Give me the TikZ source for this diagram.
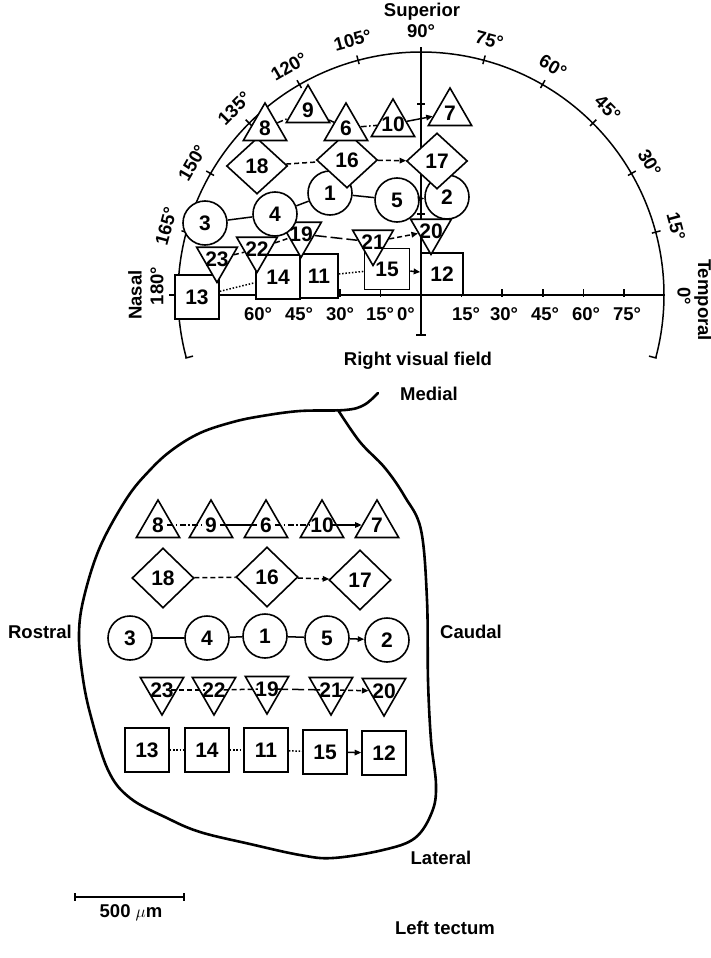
\documentclass[tikz,border=0pt]{standalone}
\usepackage{fontspec}
\setmainfont{Liberation Sans}
\usetikzlibrary{shapes.geometric,arrows.meta}
\newcommand\nm[1]{\makebox[0pt]{\raisebox{-0.36em}[0pt][0pt]{#1}}}
\begin{document}
\begin{tikzpicture}[x=1pt,y=-1pt,
  ax/.style={line width=1.5pt},
  lbl/.style={font=\bfseries\fontsize{18.5}{19}\selectfont, inner sep=0pt},
  shp/.style={draw, line width=1.6pt, fill=white, inner sep=0pt, font=\bfseries\fontsize{21}{21}\selectfont},
  tri/.style={shp, regular polygon, regular polygon sides=3, minimum size=50pt},
  itri/.style={tri, shape border rotate=180},
  circ/.style={shp, circle, minimum size=44pt},
  sq/.style={shp, rectangle, minimum size=44pt},
  dia/.style={shp, diamond, minimum width=62pt, minimum height=60pt},
  pdia/.style={shp, diamond, minimum width=61pt, minimum height=56pt},
  conn/.style={line width=1.5pt},
  arr/.style={-{Triangle[length=6.5pt,width=5.5pt]}},
  dsh/.style={dash pattern=on 5pt off 3pt},
  ddot/.style={dash pattern=on 6pt off 2.5pt on 1.5pt off 2.5pt},
  dotp/.style={dash pattern=on 1.5pt off 1.8pt},
  longd/.style={dash pattern=on 12pt off 4pt},
  into/.style={shorten <=-6pt, shorten >=-6pt}
]
\useasboundingbox (0,0) rectangle (711,958);

% ---------------- polar plot axes ----------------
\draw[ax] (177,295) -- (665,295);
\draw[ax] (169,295) -- (185,295);
\draw[ax] (421,51) -- (421,335);
\draw[ax] (416,335) -- (426,335);
\draw[ax] (417,104) -- (425,104);
\draw[ax] (417,214) -- (425,214);
\foreach \k in {1,...,5} \draw[ax] ({421+40.6*\k},289) -- ({421+40.6*\k},297);
\foreach \k in {1,...,4} \draw[ax] ({421-40.6*\k},289) -- ({421-40.6*\k},297);
\draw[ax] plot[domain=-15:195, samples=140, smooth] ({421+243*cos(\x)},{295-243*sin(\x)});
\foreach \a in {-15,195} \draw[ax] ({421+236*cos(\a)},{295-236*sin(\a)}) -- ({421+244*cos(\a)},{295-244*sin(\a)});
\foreach \a in {15,30,...,165} \draw[ax] ({421+239*cos(\a)},{295-239*sin(\a)}) -- ({421+248*cos(\a)},{295-248*sin(\a)});

% arc labels
\foreach \a in {15,30,...,165} \node[lbl, rotate=\a-90] at ({421+264*cos(\a)},{295-264*sin(\a)}) {\a°};
\node[lbl] (sup) at (422,12) {Superior};
\node[lbl, rotate=90] (nasal) at (135,295) {Nasal};
\node[lbl, rotate=90] (n180) at (157,286) {180°};
\node[lbl, rotate=-90] (temp) at (703,300) {Temporal};
\node[lbl, rotate=-90] (t0) at (684,296) {0°};
\node[lbl] (rvf) at (418,361) {Right visual field};
% axis labels
\node[lbl] at (258,314) {60°};
\node[lbl] at (299,314) {45°};
\node[lbl] at (340,314) {30°};
\node[lbl] at (380,314) {15°};
\node[lbl] at (406,314) {0°};
\node[lbl] at (466,314) {15°};
\node[lbl] at (504,314) {30°};
\node[lbl] at (545,314) {45°};
\node[lbl] at (586,314) {60°};
\node[lbl] at (627,314) {75°};

% ---------------- polar plot symbols ----------------
\node[sq] (p13) at (197,297) {\nm{13}};
\node[sq] (p14) at (278,277) {\nm{14}};
\node[sq, minimum width=38pt] (p11) at (319,276) {\nm{11}};
\node[sq, minimum width=45pt, minimum height=41pt] (p15) at (387,269) {\nm{15}};
\node[sq, minimum width=42pt, minimum height=42pt] (p12) at (442,274) {\nm{12}};

\node[itri, minimum size=47pt] (p23) at (217,259) {\nm{23}};
\node[itri, minimum size=47pt] (p22) at (257,249) {\nm{22}};
\node[itri, minimum size=47pt] (p19) at (301,234) {\nm{19}};
\node[itri, minimum size=47pt] (p21) at (373,242) {\nm{21}};
\node[itri, minimum size=47pt] (p20) at (431,231) {\nm{20}};

\node[circ] (p3) at (205,223) {\nm{3}};
\node[circ] (p4) at (275,214) {\nm{4}};
\node[circ] (p1) at (330,193) {\nm{1}};
\node[circ] (p5) at (397,200) {\nm{5}};
\node[circ] (p2) at (447,197) {\nm{2}};

\node[pdia] (p18) at (257,166) {\nm{18}};
\node[pdia] (p16) at (347,160) {\nm{16}};
\node[pdia] (p17) at (437,161) {\nm{17}};

\node[tri] (p8) at (265,128) {\nm{8}};
\node[tri] (p9) at (308,110) {\nm{9}};
\node[tri] (p6) at (346,128) {\nm{6}};
\node[tri] (p10) at (393,124) {\nm{10}};
\node[tri] (p7) at (450,113) {\nm{7}};

% polar connectors
\draw[conn, ddot] (p8) -- (p9);
\draw[conn] (p9) -- (p6);
\draw[conn, ddot] (p6) -- (p10);
\draw[conn, arr] (p10) -- (p7);
\draw[conn, dsh] (p18) -- (p16);
\draw[conn, dsh, arr] (p16) -- (p17);
\draw[conn] (p3) -- (p4);
\draw[conn] (p4) -- (p1);
\draw[conn] (p1) -- (p5);
\draw[conn, arr] (p5) -- (p2);
\draw[conn, dsh] (p23) -- (p22);
\draw[conn, dsh] (p22) -- (p19);
\draw[conn, longd] (p19) -- (p21);
\draw[conn, dsh, arr] (p21) -- (p20);
\draw[conn, dotp] (p13) -- (p14);
\draw[conn, dotp] (p11) -- (p15);
\draw[conn, arr] (p15) -- (p12);

% ---------------- tectum ----------------
\draw[line width=2.6pt, line join=round, line cap=round] plot[smooth, tension=0.6] coordinates {(378,393) (364,405) (345,410) (300,411) (262,416) (233,422) (200,433) (172,450) (150,470) (127,498) (100,547) (84,597) (79,633) (82,672) (90,713) (108,770) (130,798) (167,818) (200,832) (250,844) (300,855) (333,858) (383,850) (415,838) (432,812) (436,785) (431,740) (428,680) (427,600) (421,530) (405,497) (385,468) (360,442) (338,410)};

\node[lbl] (medial) at (429,394) {Medial};
\node[lbl] (rostral) at (40,632) {Rostral};
\node[lbl] (caudal) at (471,632) {Caudal};
\node[lbl] (lateral) at (441,858) {Lateral};
\node[lbl] (lefttec) at (445,928) {Left tectum};

\node[tri] (t8) at (158,525) {\nm{8}};
\node[tri] (t9) at (211,525) {\nm{9}};
\node[tri] (t6) at (266,525) {\nm{6}};
\node[tri] (t10) at (322,525) {\nm{10}};
\node[tri] (t7) at (377,525) {\nm{7}};

\node[dia] (t18) at (163,578) {\nm{18}};
\node[dia] (t16) at (267,577) {\nm{16}};
\node[dia] (t17) at (360,580) {\nm{17}};

\node[circ] (t3) at (130,638) {\nm{3}};
\node[circ] (t4) at (207,638) {\nm{4}};
\node[circ] (t1) at (265,636) {\nm{1}};
\node[circ] (t5) at (327,638) {\nm{5}};
\node[circ] (t2) at (387,640) {\nm{2}};

\node[itri] (t23) at (162,690) {\nm{23}};
\node[itri] (t22) at (214,690) {\nm{22}};
\node[itri] (t19) at (267,689) {\nm{19}};
\node[itri] (t21) at (331,690) {\nm{21}};
\node[itri] (t20) at (384,691) {\nm{20}};

\node[sq] (t13) at (147,750) {\nm{13}};
\node[sq] (t14) at (207,750) {\nm{14}};
\node[sq] (t11) at (266,750) {\nm{11}};
\node[sq] (t15) at (325,752) {\nm{15}};
\node[sq] (t12) at (384,753) {\nm{12}};

\draw[conn, ddot, into] (t8) -- (t9);
\draw[conn, into] (t9) -- (t6);
\draw[conn, ddot, into] (t6) -- (t10);
\draw[conn, arr, shorten <=-6pt] (t10) -- (t7);
\draw[conn, dsh] (t18) -- (t16);
\draw[conn, dsh, arr] (t16) -- (t17);
\draw[conn] (t3) -- (t4);
\draw[conn] (t4) -- (t1);
\draw[conn] (t1) -- (t5);
\draw[conn, arr] (t5) -- (t2);
\draw[conn, dsh, into] (t23) -- (t22);
\draw[conn, dsh, into] (t22) -- (t19);
\draw[conn, longd, into] (t19) -- (t21);
\draw[conn, dsh, arr, shorten <=-6pt] (t21) -- (t20);
\draw[conn, dotp] (t13) -- (t14);
\draw[conn, dotp] (t14) -- (t11);
\draw[conn, dotp] (t11) -- (t15);
\draw[conn, arr] (t15) -- (t12);

% scale bar
\coordinate (sb1) at (75,897);
\coordinate (sb2) at (184,897);
\draw[ax] (sb1) -- (sb2);
\draw[ax] (75,893) -- (75,901);
\draw[ax] (184,893) -- (184,901);
\node[lbl] (scl) at (131,913) {500 $\mu$m};
\end{tikzpicture}
\end{document}
